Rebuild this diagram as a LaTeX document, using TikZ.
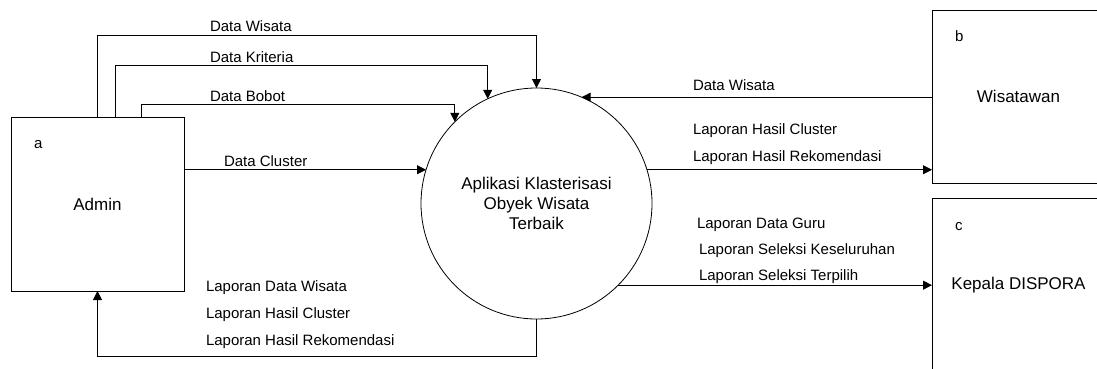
\documentclass[tikz,border=0pt]{standalone}
\usepackage{fontspec}
\setmainfont{Liberation Sans}
\usetikzlibrary{arrows.meta}
\begin{document}
\begin{tikzpicture}[x=1pt,y=-1pt,
  every node/.style={inner sep=0pt, outer sep=0pt},
  entity/.style={draw, line width=0.8pt, minimum width=173pt, minimum height=174pt, font=\fontsize{17}{20}\selectfont},
  proc/.style={draw, circle, line width=0.8pt, minimum size=231pt, align=center, font=\fontsize{17}{20}\selectfont},
  lbl/.style={anchor=base west, font=\fontsize{15}{18}\selectfont},
  flow/.style={line width=0.8pt, -{Triangle[length=9pt,width=9pt]}},
]
\useasboundingbox (0,0) rectangle (1097,369);
\clip (0,0) rectangle (1097,369);

% entities and process
\node[entity] (admin) at (97.5,204) {Admin};
\node[entity, minimum height=173pt] (wis) at (1018.5,96.5) {Wisatawan};
\node[entity] (kep) at (1018.5,285) {Kepala DISPORA};
\node[proc] (proc) at (536.5,203.5) {Aplikasi Klasterisasi\\Obyek Wisata\\Terbaik};

\node[lbl] (la) at (34,148) {a};
\node[lbl] (lb) at (955,41.7) {b};
\node[lbl] (lc) at (955,230) {c};

% flows from admin
\coordinate (tw) at (97,35);
\coordinate (tk) at (115,65);
\coordinate (tb) at (141,104);
\coordinate (tc) at (0,171);
\draw[flow] (admin.north -| tw) -- (tw) -| (proc.north);
\draw[flow] (admin.north -| tk) -- (tk) -| (proc.115.93);
\draw[flow] (admin.north -| tb) -- (tb) -| (proc.135.6);
\draw[flow] (admin.east |- proc.163.66) -- (proc.163.66);

% flows with the right-hand entities
\draw[flow] (wis.west |- proc.67.24) -- (proc.67.24);
\draw[flow] (proc.17.9) -- (proc.17.9 -| wis.west);
\draw[flow] (proc.-45.58) -- (proc.-45.58 -| kep.west);

% return flow to admin
\draw[flow] (proc.south) -- ++(0,37) -| (admin.south);

% labels
\node[lbl] (l1) at (210,32) {Data Wisata};
\node[lbl] (l2) at (210,63) {Data Kriteria};
\node[lbl] (l3) at (210,101) {Data Bobot};
\node[lbl] (l4) at (224,166) {Data Cluster};
\node[lbl] (l5) at (693,90) {Data Wisata};
\node[lbl] (l6) at (693,134.5) {Laporan Hasil Cluster};
\node[lbl] (l7) at (693,161.5) {Laporan Hasil Rekomendasi};
\node[lbl] (l8) at (697,228) {Laporan Data Guru};
\node[lbl] (l9) at (699,254) {Laporan Seleksi Keseluruhan};
\node[lbl] (l10) at (699,280) {Laporan Seleksi Terpilih};
\node[lbl] (l11) at (206,291) {Laporan Data Wisata};
\node[lbl] (l12) at (206,318) {Laporan Hasil Cluster};
\node[lbl] (l13) at (206,345) {Laporan Hasil Rekomendasi};
\end{tikzpicture}
\end{document}
